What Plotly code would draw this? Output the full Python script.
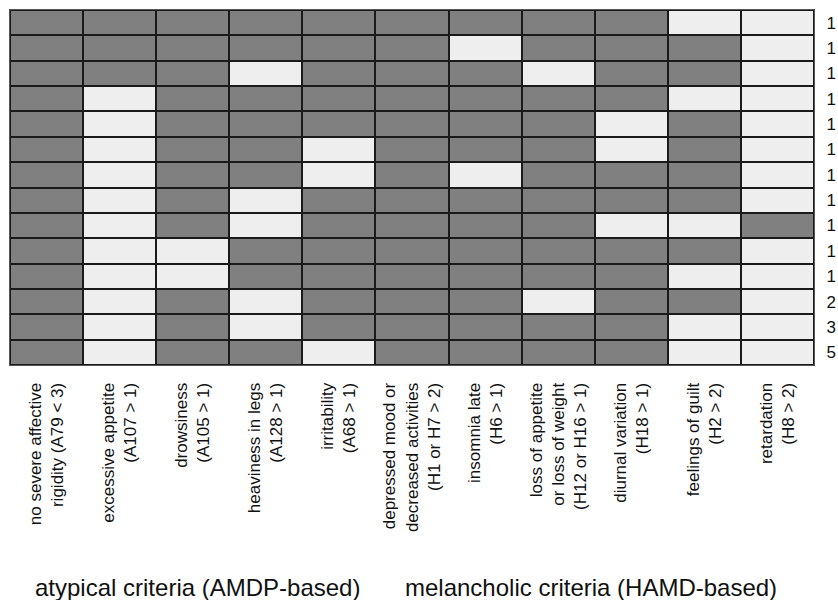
import plotly.graph_objects as go

criteria = [
    "no severe affective<br>rigidity (A79 < 3)",
    "excessive appetite<br>(A107 > 1)",
    "drowsiness<br>(A105 > 1)",
    "heaviness in legs<br>(A128 > 1)",
    "irritability<br>(A68 > 1)",
    "depressed mood or<br>decreased activities<br>(H1 or H7 > 2)",
    "insomnia late<br>(H6 > 1)",
    "loss of appetite<br>or loss of weight<br>(H12 or H16 > 1)",
    "diurnal variation<br>(H18 > 1)",
    "feelings of guilt<br>(H2 > 2)",
    "retardation<br>(H8 > 2)",
]

profiles = ["P%d" % (i + 1) for i in range(14)]
counts = ["1", "1", "1", "1", "1", "1", "1", "1", "1", "1", "1", "2", "3", "5"]

# 1 = criterion fulfilled (dark), 0 = not fulfilled (light)
p1 = [1, 1, 1, 1, 1, 1, 1, 1, 1, 0, 0]
p2 = [1, 1, 1, 1, 1, 1, 0, 1, 1, 1, 0]
p3 = [1, 1, 1, 0, 1, 1, 1, 0, 1, 1, 0]
p4 = [1, 0, 1, 1, 1, 1, 1, 1, 1, 0, 0]
p5 = [1, 0, 1, 1, 1, 1, 1, 1, 0, 1, 0]
p6 = [1, 0, 1, 1, 0, 1, 1, 1, 0, 1, 0]
p7 = [1, 0, 1, 1, 0, 1, 0, 1, 1, 1, 0]
p8 = [1, 0, 1, 0, 1, 1, 1, 1, 1, 1, 0]
p9 = [1, 0, 1, 0, 1, 1, 1, 1, 0, 0, 1]
p10 = [1, 0, 0, 1, 1, 1, 1, 1, 1, 1, 0]
p11 = [1, 0, 0, 1, 1, 1, 1, 1, 1, 0, 0]
p12 = [1, 0, 1, 0, 1, 1, 1, 0, 1, 1, 0]
p13 = [1, 0, 1, 0, 1, 1, 1, 1, 1, 0, 0]
p14 = [1, 0, 1, 1, 0, 1, 1, 1, 1, 0, 0]

z = [p1, p2, p3, p4, p5, p6, p7, p8, p9, p10, p11, p12, p13, p14]

group_titles = ["atypical criteria (AMDP-based)", "melancholic criteria (HAMD-based)"]

WIDTH, HEIGHT = 838, 600
ML, MR, MT, MB = 10, 24, 10, 235
PW = WIDTH - ML - MR
PH = HEIGHT - MT - MB

fig = go.Figure(
    go.Heatmap(
        z=z,
        x=list(range(len(criteria))),
        y=list(range(len(profiles))),
        colorscale=[[0, "#eeeeee"], [1, "#808080"]],
        zmin=0,
        zmax=1,
        showscale=False,
        xgap=2,
        ygap=2,
        hoverinfo="skip",
    )
)

fig.update_layout(
    width=WIDTH,
    height=HEIGHT,
    margin=dict(l=ML, r=MR, t=MT, b=MB),
    plot_bgcolor="#1a1a1a",
    paper_bgcolor="white",
    font=dict(family="Liberation Sans, Arial, sans-serif", color="#111111"),
)

fig.update_xaxes(
    tickmode="array",
    tickvals=list(range(len(criteria))),
    ticktext=criteria,
    tickangle=-90,
    tickfont=dict(size=17),
    showgrid=False,
    zeroline=False,
    ticks="",
    ticklabelstandoff=10,
    automargin=False,
    ticklabeloverflow="allow",
    range=[-0.5, len(criteria) - 0.5],
    showline=True,
    linecolor="#555555",
    linewidth=1,
    mirror=True,
)
fig.update_yaxes(
    tickmode="array",
    tickvals=list(range(len(profiles))),
    ticktext=counts,
    side="right",
    autorange="reversed",
    tickfont=dict(size=17),
    showgrid=False,
    zeroline=False,
    ticks="",
    ticklabelstandoff=8,
    automargin=False,
    ticklabeloverflow="allow",
    showline=True,
    linecolor="#555555",
    linewidth=1,
    mirror=True,
)

title_px = [(197, 587), (591, 587)]
for txt, (px, py) in zip(group_titles, title_px):
    fig.add_annotation(
        text=txt,
        x=(px - ML) / PW,
        y=(HEIGHT - MB - py) / PH,
        xref="paper",
        yref="paper",
        xanchor="center",
        yanchor="middle",
        showarrow=False,
        font=dict(size=24),
    )

fig.write_html(
    "out.html",
    config={"displayModeBar": False},
    post_script="document.body.style.margin='0';document.body.style.overflow='hidden';",
)
